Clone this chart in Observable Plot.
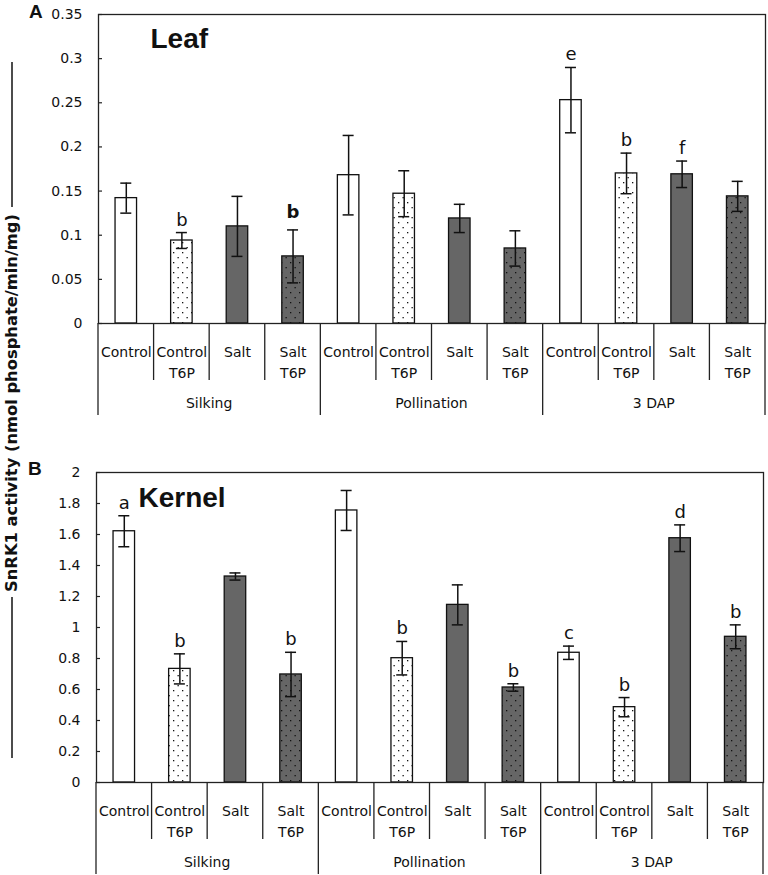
<!DOCTYPE html>
<html>
<head>
<meta charset="utf-8">
<script src="https://cdn.jsdelivr.net/npm/d3@7"></script>
<script src="https://cdn.jsdelivr.net/npm/@observablehq/plot@0.6"></script>
<style>
  body { margin: 0; background: #fff; }
  #wrap { position: relative; width: 768px; height: 875px; overflow: hidden; background: #fff; }
  #panelA, #panelB { position: absolute; left: 0; }
  #panelA { top: 0; }
  #panelB { top: 418px; }
  #overlay { position: absolute; left: 0; top: 0; pointer-events: none; }
</style>
</head>
<body>
<div id="wrap">
  <svg width="0" height="0" style="position:absolute">
    <defs>
      <pattern id="dotsWhite" width="9" height="10" patternUnits="userSpaceOnUse">
        <rect width="9" height="10" fill="#ffffff"></rect>
        <rect x="2" y="2" width="1.3" height="1.3" fill="#111"></rect>
        <rect x="6.5" y="7" width="1.3" height="1.3" fill="#111"></rect>
      </pattern>
      <pattern id="dotsGray" width="9" height="10" patternUnits="userSpaceOnUse">
        <rect width="9" height="10" fill="#666666"></rect>
        <rect x="2" y="2" width="1.3" height="1.3" fill="#111"></rect>
        <rect x="6.5" y="7" width="1.3" height="1.3" fill="#111"></rect>
      </pattern>
    </defs>
  </svg>
  <div id="panelA"></div>
  <div id="panelB"></div>
  <svg id="overlay" width="768" height="875">
    <text x="29" y="18" font-family="Liberation Sans, Arial, sans-serif" font-weight="bold" font-size="19" fill="#111">A</text>
    <text x="28" y="475" font-family="Liberation Sans, Arial, sans-serif" font-weight="bold" font-size="19" fill="#111">B</text>
    <line x1="12" x2="12" y1="62" y2="207" stroke="#111" stroke-width="1.5"></line>
    <line x1="12" x2="12" y1="597" y2="758" stroke="#111" stroke-width="1.5"></line>
    <text id="ytitle" transform="translate(17,403) rotate(-90)" text-anchor="middle" font-family="DejaVu Sans, sans-serif" font-weight="bold" font-size="15.5" textLength="378" lengthAdjust="spacingAndGlyphs" fill="#111">SnRK1 activity (nmol phosphate/min/mg)</text>
  </svg>
</div>
<script>
// ---------- data ----------
const stages = ["Silking", "Pollination", "3 DAP"];
const treatments = ["Control", "Control T6P", "Salt", "Salt T6P"];
const treatmentLabels = ["Control", "Control\nT6P", "Salt", "Salt\nT6P"];
const treatmentFills = ["#ffffff", "url(#dotsWhite)", "#666666", "url(#dotsGray)"];

// Panel A: Leaf (order: stage-major, treatment-minor)
const leafMeans  = [0.142, 0.094, 0.110, 0.076, 0.168, 0.147, 0.119, 0.085, 0.253, 0.170, 0.169, 0.144];
const leafErrors = [0.017, 0.009, 0.034, 0.030, 0.045, 0.026, 0.016, 0.020, 0.037, 0.023, 0.015, 0.017];
const leafLetters = ["", "b", "", "b", "", "", "", "", "e", "b", "f", ""];
const leafBold    = [false, false, false, true, false, false, false, false, false, false, false, false];
const leafTicks = [0, 0.05, 0.1, 0.15, 0.2, 0.25, 0.3, 0.35];

// Panel B: Kernel
const kernelMeans  = [1.621, 0.733, 1.329, 0.697, 1.755, 0.802, 1.146, 0.613, 0.837, 0.486, 1.576, 0.940];
const kernelErrors = [0.100, 0.097, 0.023, 0.143, 0.129, 0.108, 0.129, 0.024, 0.043, 0.062, 0.086, 0.077];
const kernelLetters = ["a", "b", "", "b", "", "b", "", "b", "c", "b", "d", "b"];
const kernelBold    = [false, false, false, false, false, false, false, false, false, false, false, false];
const kernelTicks = [0, 0.2, 0.4, 0.6, 0.8, 1, 1.2, 1.4, 1.6, 1.8, 2];

// ---------- helpers ----------
const keys = stages.flatMap(s => treatments.map(t => `${s}|${t}`));
const labelFor = k => treatmentLabels[treatments.indexOf(k.split("|")[1])];

function categoryTable({inner, outer, labelOffset}) {
  return (index, scales, values, dimensions) => {
    const x = scales.x;
    const bw = x.bandwidth();
    const y0 = dimensions.height - dimensions.marginBottom;
    const g = d3.create("svg:g")
      .attr("stroke", "#222").attr("stroke-width", 1.3);
    keys.forEach((k, i) => {
      const xx = x(k);
      g.append("line").attr("x1", xx).attr("x2", xx)
        .attr("y1", y0).attr("y2", y0 + (i % treatments.length === 0 ? outer : inner));
    });
    const xr = x(keys[keys.length - 1]) + bw;
    g.append("line").attr("x1", xr).attr("x2", xr).attr("y1", y0).attr("y2", y0 + outer);
    stages.forEach((s, j) => {
      const xs = x(keys[j * treatments.length]) + bw * treatments.length / 2;
      g.append("text").attr("x", xs).attr("y", y0 + labelOffset)
        .attr("dy", "0.35em").attr("text-anchor", "middle")
        .attr("stroke", "none").attr("fill", "#111")
        .attr("font-family", "DejaVu Sans, sans-serif").attr("font-size", 14)
        .text(s);
    });
    return g.node();
  };
}

function panel({means, errors, letters, bold, ticks, title, height, marginTop, marginBottom, marginLeft, marginRight, titleDx, titleDy}) {
  const data = keys.map((k, i) => ({
    key: k, treatment: k.split("|")[1], mean: means[i], err: errors[i], letter: letters[i], bold: bold[i]
  }));
  const width = 768;
  const plotW = width - marginLeft - marginRight;
  const bw = plotW / keys.length;
  const barInset = (bw - 21.5) / 2;
  const capInset = (bw - 11) / 2;
  return Plot.plot({
    width, height, marginTop, marginBottom, marginLeft, marginRight,
    style: {fontFamily: "DejaVu Sans, sans-serif", fontSize: "14px", color: "#111", background: "transparent", overflow: "visible"},
    x: {domain: keys, padding: 0, round: false, label: null},
    y: {domain: [ticks[0], ticks[ticks.length - 1]], label: null},
    color: {type: "ordinal", domain: treatments, range: treatmentFills},
    marks: [
      Plot.barY(data, {x: "key", y: "mean", fill: "treatment", stroke: "#111", strokeWidth: 1.3, insetLeft: barInset, insetRight: barInset}),
      Plot.ruleX(data, {x: "key", y1: d => d.mean - d.err, y2: d => d.mean + d.err, stroke: "#111", strokeWidth: 1.5}),
      Plot.tickY(data, {x: "key", y: d => d.mean + d.err, stroke: "#111", strokeWidth: 1.5, insetLeft: capInset, insetRight: capInset}),
      Plot.tickY(data, {x: "key", y: d => d.mean - d.err, stroke: "#111", strokeWidth: 1.5, insetLeft: capInset, insetRight: capInset}),
      Plot.text(data.filter(d => d.letter && !d.bold), {x: "key", y: d => d.mean + d.err, text: "letter", lineAnchor: "bottom", dy: -7, fontSize: 18, fill: "#111"}),
      Plot.text(data.filter(d => d.letter && d.bold), {x: "key", y: d => d.mean + d.err, text: "letter", lineAnchor: "bottom", dy: -12, fontSize: 18, fontWeight: "bold", fill: "#111"}),
      Plot.frame({stroke: "#222", strokeWidth: 1.3}),
      Plot.ruleY(ticks, {y: d => d, insetRight: plotW - 4, stroke: "#222", strokeWidth: 1.2}),
      Plot.axisY(ticks, {tickSize: 0, tickPadding: 16, tickFormat: d => String(d), fontSize: 14, label: null}),
      Plot.axisX({tickSize: 0, tickPadding: 19, tickFormat: labelFor, lineHeight: 1.5, fontSize: 14, label: null}),
      categoryTable({inner: 57, outer: 92, labelOffset: 80}),
      Plot.text([title], {frameAnchor: "top-left", text: d => d, dx: titleDx, dy: titleDy, lineAnchor: "top", textAnchor: "start", fontSize: 28, fontWeight: "bold", fontFamily: "Liberation Sans, Arial, sans-serif", fill: "#111"})
    ]
  });
}

document.getElementById("panelA").append(panel({
  means: leafMeans, errors: leafErrors, letters: leafLetters, bold: leafBold, ticks: leafTicks,
  title: "Leaf", height: 418, marginTop: 14, marginBottom: 95, marginLeft: 98, marginRight: 3, titleDx: 52, titleDy: 14
}));
document.getElementById("panelB").append(panel({
  means: kernelMeans, errors: kernelErrors, letters: kernelLetters, bold: kernelBold, ticks: kernelTicks,
  title: "Kernel", height: 457, marginTop: 54, marginBottom: 93, marginLeft: 96, marginRight: 5, titleDx: 42, titleDy: 15
}));
</script>
</body>
</html>
